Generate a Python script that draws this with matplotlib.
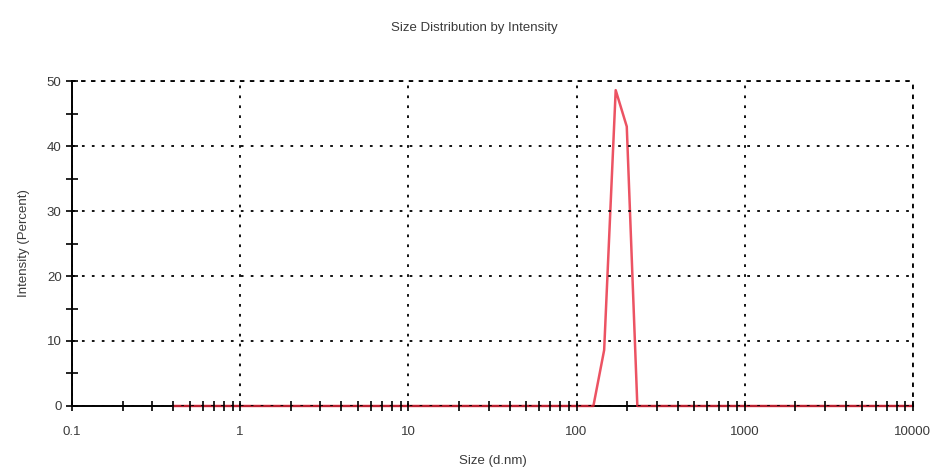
import numpy as np
import matplotlib.pyplot as plt
from matplotlib.ticker import FixedLocator, LogLocator, NullFormatter

# size distribution (d.nm vs percent)
sizes = [0.4, 126.0, 146.0, 171.0, 199.0, 230.0, 10000.0]
intensity = [0.0, 0.0, 8.6, 48.6, 43.0, 0.0, 0.0]

x_ticks = [0.1, 1, 10, 100, 1000, 10000]
x_tick_labels = ['0.1', '1', '10', '100', '1000', '10000']
y_ticks = [0, 10, 20, 30, 40, 50]

plt.rcParams['font.family'] = ['Liberation Sans', 'DejaVu Sans']
text_col = '#3a3a3a'

fig = plt.figure(figsize=(9.43, 4.74), dpi=100)
ax = fig.add_axes([0.0764, 0.1435, 0.8916, 0.6855])
ax.set_axisbelow(False)  # ticks and grid dots over the curve

# sits over the bottom spine (dark red band) but under the tick marks
ax.plot(sizes, intensity, color='#e8283c', lw=1.8, alpha=0.8,
        zorder=2.3, clip_on=False)

ax.set_xscale('log')
ax.set_xlim(0.1, 10000)
ax.set_ylim(0, 50)

ax.xaxis.set_major_locator(FixedLocator(x_ticks))
ax.set_xticklabels(x_tick_labels)
ax.xaxis.set_minor_locator(LogLocator(base=10, subs=np.arange(2, 10)))
ax.xaxis.set_minor_formatter(NullFormatter())
ax.set_yticks(y_ticks)
ax.yaxis.set_minor_locator(FixedLocator([5, 15, 25, 35, 45]))

ax.tick_params(axis='y', which='both', direction='inout', length=9, width=1.2,
               colors='black', labelcolor=text_col, labelsize=9.5, pad=3)
ax.tick_params(axis='x', which='both', direction='inout', length=7, width=1.2,
               colors='black', labelcolor=text_col, labelsize=9.5, pad=11)

ax.grid(True, which='major', color='black', linestyle=(0, (1.5, 4)), lw=1.3)

for side in ['left', 'bottom']:
    ax.spines[side].set_linewidth(1.4)
ax.spines['bottom'].set_zorder(2)
for side in ['top', 'right']:
    ax.spines[side].set_linestyle((0, (1.5, 4)))
    ax.spines[side].set_linewidth(1.3)

ax.set_xlabel('Size (d.nm)', color=text_col, fontsize=9.5, labelpad=12)
ax.set_ylabel('Intensity (Percent)', color=text_col, fontsize=9.5, labelpad=12)
fig.text(0.503, 0.94, 'Size Distribution by Intensity', ha='center',
         va='center', color=text_col, fontsize=9.5)

fig.savefig('out.png', dpi=100)
